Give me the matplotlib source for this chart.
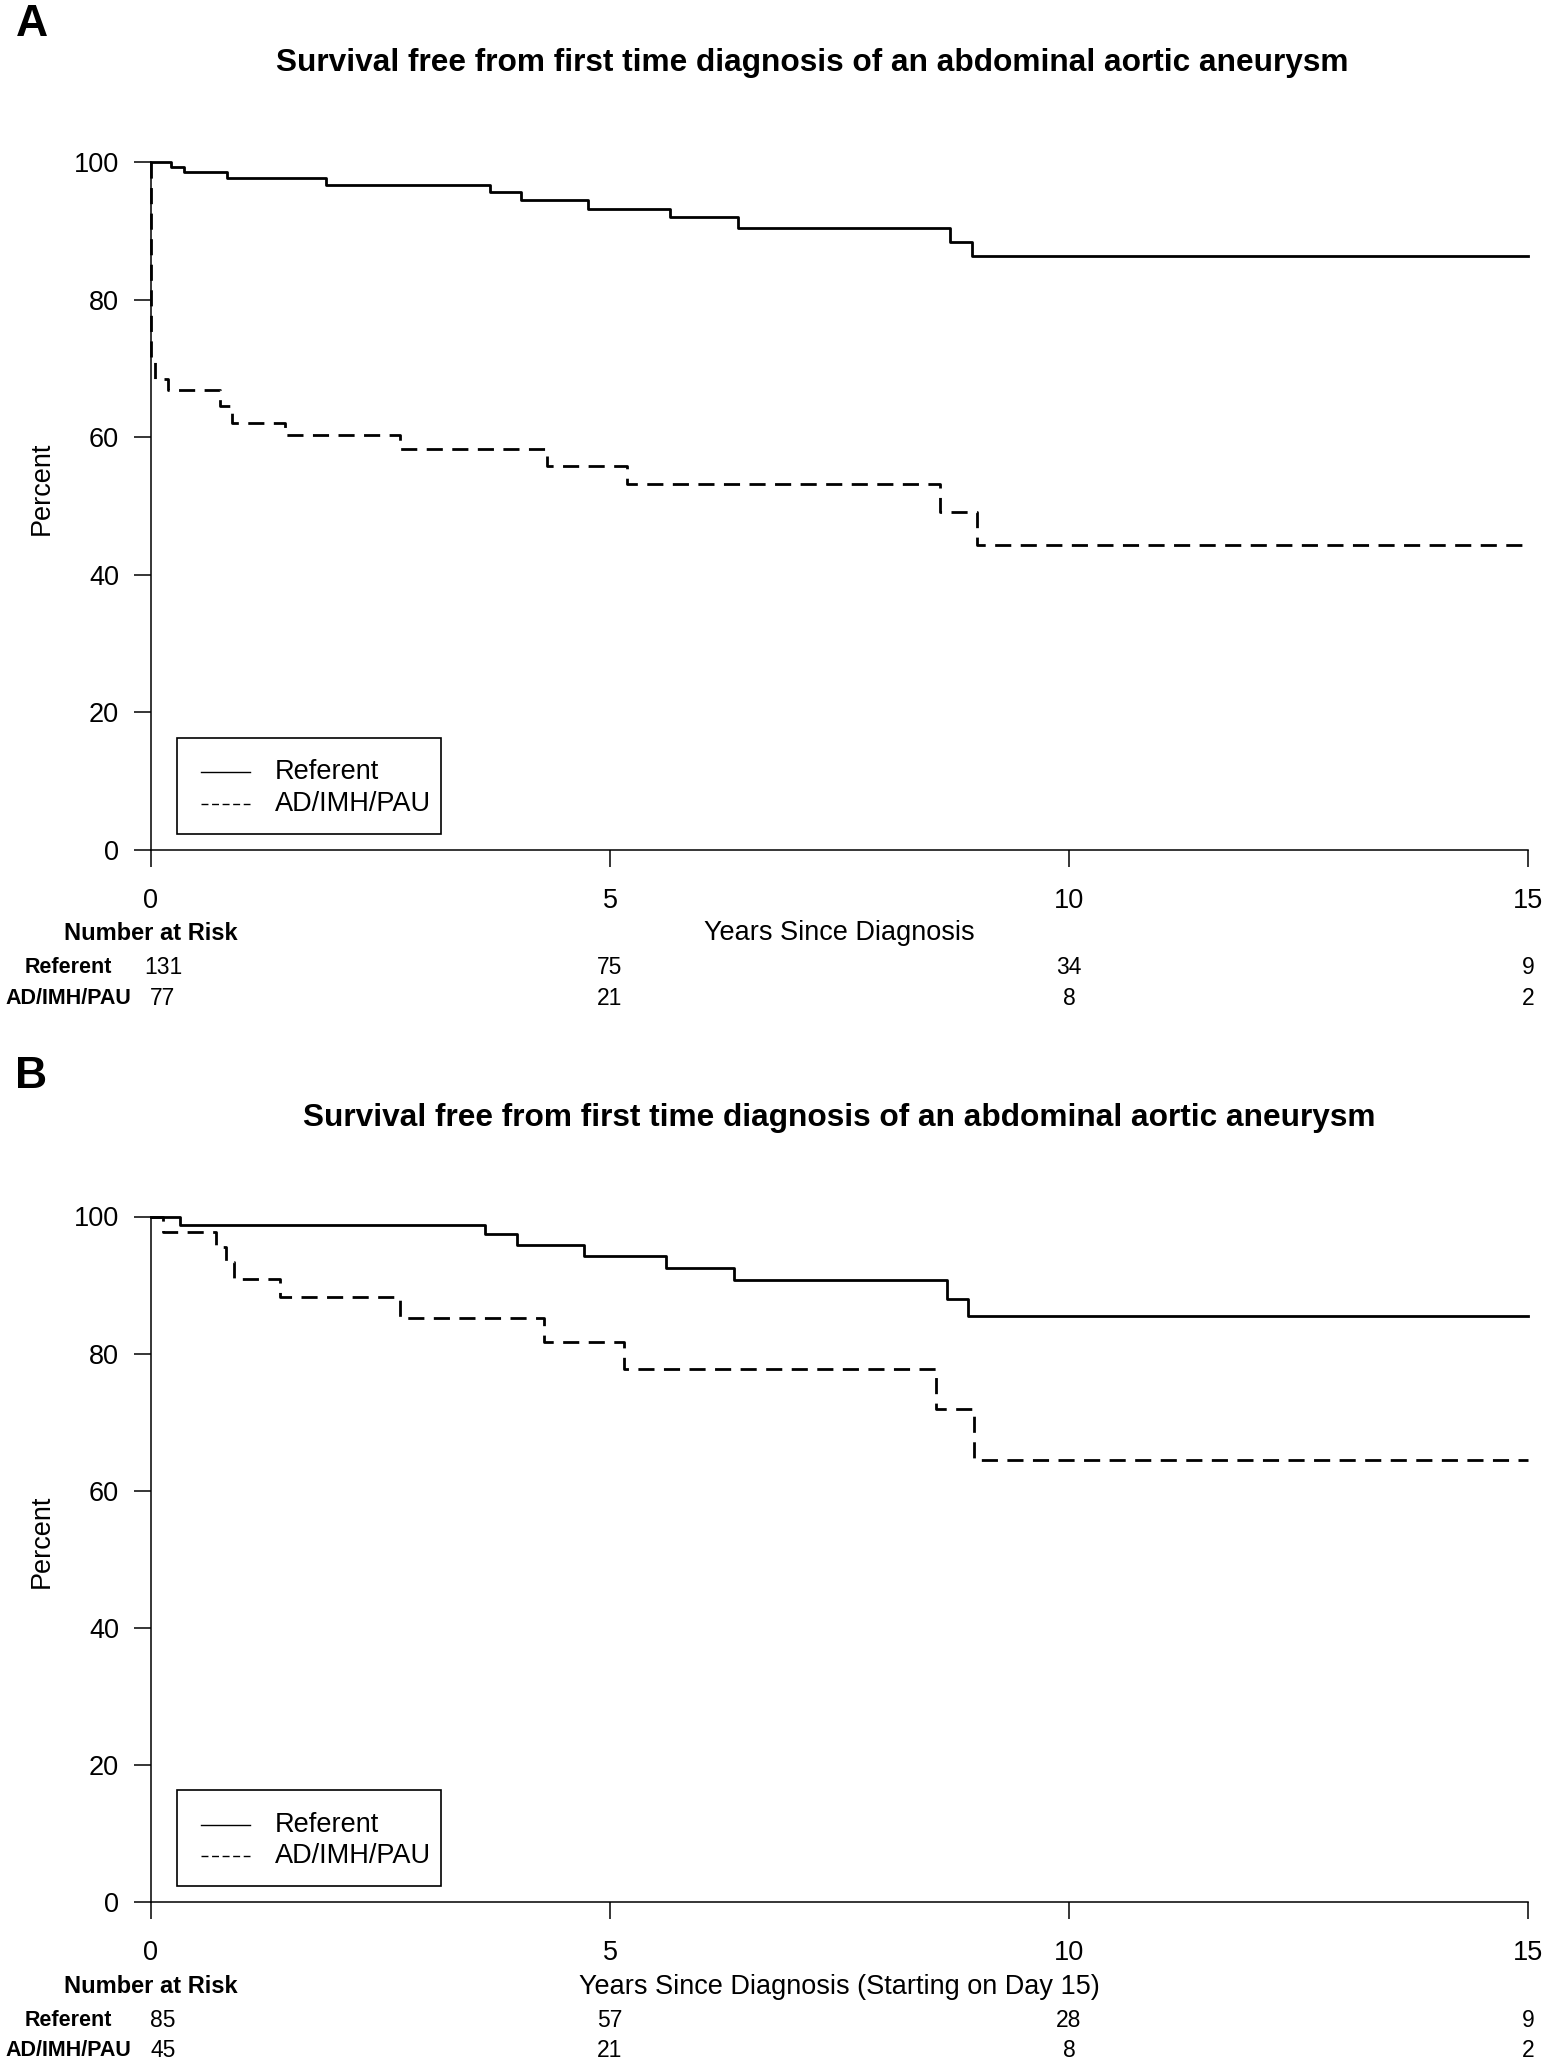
import matplotlib
matplotlib.use("Agg")
import matplotlib.pyplot as plt
from matplotlib.patches import Rectangle

plt.rcParams['font.family'] = ['Liberation Sans', 'DejaVu Sans']

# datos (porcentaje libre de evento)
tiempo_ref_a = [0, 0.22, 0.355, 0.83, 1.91, 3.69, 4.03, 4.76, 5.65, 6.39, 8.70, 8.94, 15]
surv_ref_a = [100, 99.27, 98.48, 97.68, 96.7, 95.65, 94.5, 93.2, 92.0, 90.45, 88.4, 86.3, 86.3]
tiempo_ad_a = [0, 0.005, 0.04, 0.18, 0.75, 0.88, 1.46, 2.71, 4.31, 5.19, 8.60, 9.00, 15]
surv_ad_a = [100, 71.3, 68.4, 66.9, 64.5, 62.1, 60.3, 58.3, 55.8, 53.2, 49.1, 44.3, 44.3]

tiempo_ref_b = [0, 0.32, 3.64, 3.99, 4.72, 5.61, 6.35, 8.67, 8.90, 15]
surv_ref_b = [100, 98.8, 97.4, 95.9, 94.2, 92.5, 90.7, 88.0, 85.5, 85.5]
tiempo_ad_b = [0, 0.13, 0.71, 0.82, 0.90, 1.41, 2.71, 4.28, 5.15, 8.55, 8.97, 15]
surv_ad_b = [100, 97.8, 95.6, 93.3, 90.9, 88.2, 85.2, 81.7, 77.8, 71.9, 64.5, 64.5]

# numero en riesgo
tiempos_riesgo = [0, 5, 10, 15]
riesgo_ref_a = [131, 75, 34, 9]
riesgo_ad_a = [77, 21, 8, 2]
riesgo_ref_b = [85, 57, 28, 9]
riesgo_ad_b = [45, 21, 8, 2]

grupos = ["Referent", "AD/IMH/PAU"]
titulo = "Survival free from first time diagnosis of an abdominal aortic aneurysm"
xlabel_a = "Years Since Diagnosis"
xlabel_b = "Years Since Diagnosis (Starting on Day 15)"

W, H = 1550, 2061
fig = plt.figure(figsize=(W / 100, H / 100), dpi=100)

izq = 151 / W
ancho = (1528 - 151) / W
ax_a = fig.add_axes([izq, 1 - 850 / H, ancho, (850 - 162) / H])
ax_b = fig.add_axes([izq, 1 - 1902 / H, ancho, (1902 - 1216.5) / H])

dash_curva = (0, (5.8, 3.4))
dash_leyenda = (0, (5.0, 2.6))


def dibujar_panel(ax, t_ref, s_ref, t_ad, s_ad, r_ref, r_ad, xlabel, y_filas):
    ax.step(t_ref, s_ref, where='post', color='black', lw=2.0, clip_on=False)
    ax.step(t_ad, s_ad, where='post', color='black', lw=2.0, ls=dash_curva, clip_on=False)

    ax.set_xlim(0, 15)
    ax.set_ylim(0, 100)
    ax.set_xticks(tiempos_riesgo)
    ax.set_yticks([0, 20, 40, 60, 80, 100])
    for s in ['top', 'right']:
        ax.spines[s].set_visible(False)
    for s in ['left', 'bottom']:
        ax.spines[s].set_linewidth(1.1)
    ax.tick_params(axis='both', direction='out', length=12, width=1.1, labelsize=19.5)
    ax.tick_params(axis='x', pad=15.5)
    ax.tick_params(axis='y', pad=11)

    ax.set_ylabel("Percent", fontsize=19.5)
    ax.yaxis.set_label_coords(-0.0701, 0.526)

    # leyenda dibujada a mano para imitar el cuadro de R
    ax.add_patch(Rectangle((0.0189, 0.0233), 0.1917, 0.1395, transform=ax.transAxes,
                           fill=False, edgecolor='black', lw=1.2, clip_on=False))
    for k, (nombre, estilo) in enumerate(zip(grupos, ['-', dash_leyenda])):
        yy = 0.113 - k * 0.046
        ax.plot([0.0363, 0.0719], [yy, yy], transform=ax.transAxes, color='black',
                lw=1.0, ls=estilo, clip_on=False)
        ax.text(0.0897, yy, nombre, transform=ax.transAxes, fontsize=19.5,
                ha='left', va='center')

    # tabla de numero en riesgo bajo el eje
    tr = ax.get_xaxis_transform()
    ax.text(7.5, y_filas[0], xlabel, transform=tr, fontsize=19.5, ha='center', va='center')
    ax.text(0, y_filas[0], "Number at Risk", transform=tr, fontsize=17,
            fontweight='bold', ha='center', va='center')
    for fila, (nombre, valores) in enumerate(zip(grupos, [r_ref, r_ad])):
        yy = y_filas[fila + 1]
        ax.text(-0.899, yy, nombre, transform=tr, fontsize=15.5, fontweight='bold',
                ha='center', va='center')
        for t, v in zip(tiempos_riesgo, valores):
            xx = t + 0.13 if t == 0 else t
            ax.text(xx, yy, str(v), transform=tr, fontsize=16.5, ha='center', va='center')


dibujar_panel(ax_a, tiempo_ref_a, surv_ref_a, tiempo_ad_a, surv_ad_a,
              riesgo_ref_a, riesgo_ad_a, xlabel_a, [-0.1213, -0.1707, -0.2165])
dibujar_panel(ax_b, tiempo_ref_b, surv_ref_b, tiempo_ad_b, surv_ad_b,
              riesgo_ref_b, riesgo_ad_b, xlabel_b, [-0.1239, -0.1733, -0.2170])

# titulos y letras de panel
fig.text(812 / W, 1 - 63 / H, titulo, fontsize=22.8, fontweight='bold', ha='center', va='center')
fig.text(839 / W, 1 - 1118 / H, titulo, fontsize=22.8, fontweight='bold', ha='center', va='center')
fig.text(31.5 / W, 1 - 25 / H, "A", fontsize=32, fontweight='bold', ha='center', va='center')
fig.text(31.5 / W, 1 - 1077 / H, "B", fontsize=32, fontweight='bold', ha='center', va='center')

fig.savefig("out.png", dpi=100)
